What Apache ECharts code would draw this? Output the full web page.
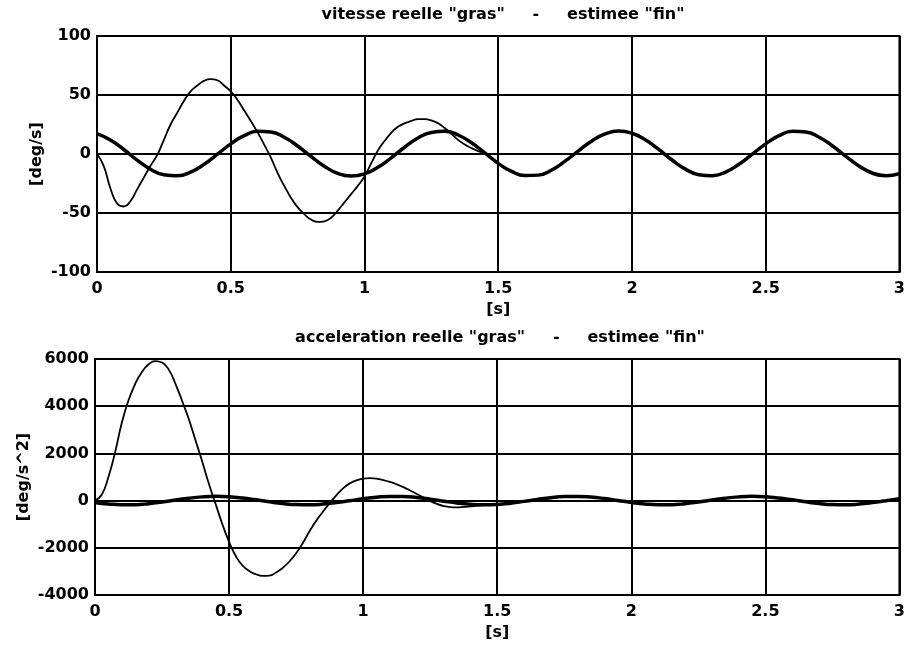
<!DOCTYPE html>
<html><head><meta charset="utf-8">
<script src="https://cdn.jsdelivr.net/npm/echarts@6/dist/echarts.min.js"></script>
<style>html,body{margin:0;padding:0;background:#fff}#c{width:908px;height:649px}</style>
</head><body><div id="c"></div>
<script>
// time samples [s] for the real ("gras") curves
const times = [0,0.05,0.1,0.15,0.2,0.25,0.3,0.35,0.4,0.45,0.5,0.55,0.6,0.65,0.7,0.75,0.8,0.85,0.9,0.95,
  1,1.05,1.1,1.15,1.2,1.25,1.3,1.35,1.4,1.45,1.5,1.55,1.6,1.65,1.7,1.75,1.8,1.85,1.9,1.95,
  2,2.05,2.1,2.15,2.2,2.25,2.3,2.35,2.4,2.45,2.5,2.55,2.6,2.65,2.7,2.75,2.8,2.85,2.9,2.95,3];
// time samples [s] for the estimated ("fin") curves
const timesEst = [0,0.025,0.05,0.075,0.1,0.125,0.15,0.175,0.2,0.225,0.25,0.275,0.3,0.325,0.35,0.375,0.4,0.425,0.45,0.475,
  0.5,0.525,0.55,0.575,0.6,0.625,0.65,0.675,0.7,0.725,0.75,0.775,0.8,0.825,0.85,0.875,0.9,0.925,0.95,0.975,
  1,1.025,1.05,1.075,1.1,1.125,1.15,1.175,1.2,1.225,1.25,1.275,1.3,1.325,1.35,1.375,1.4,1.425,1.45,1.475,1.5,
  1.55,1.6,1.65,1.7,1.75,1.8,1.85,1.9,1.95,
  2,2.05,2.1,2.15,2.2,2.25,2.3,2.35,2.4,2.45,2.5,2.55,2.6,2.65,2.7,2.75,2.8,2.85,2.9,2.95,3];

// vitesse reelle "gras" [deg/s]
const velReal = [17.2,11.8,3.8,-5.2,-12.9,-17.6,-18.5,-15.4,-8.8,-0.2,8.6,15.5,19.2,18.7,14.2,6.8,-2.1,-10.4,-16.4,-18.6,-16.8,
  -11.3,-3.2,5.7,13.5,18.3,19.3,16.1,9.5,0.9,-7.9,-14.8,-18.3,-17.9,-13.5,-6.1,2.7,11.1,17.1,19.5,17.6,
  12.0,3.9,-5.1,-12.8,-17.5,-18.4,-15.3,-8.7,-0.1,8.6,15.5,19.2,18.7,14.2,6.8,-2.0,-10.3,-16.3,-18.4,-16.6];
// vitesse estimee "fin" [deg/s]
const velEst = [0,-10,-29,-42,-44.5,-40,-30,-20,-10,-1,12,25,35,45,53,58,62,63.5,62.5,58,
  53,46,37,28,18.5,8,-3,-16,-27,-37,-45,-51,-55.5,-57.5,-57,-54,-48,-41,-34,-27,
  -19,-8,3,11,18,23,26,28,29.5,29.5,28.5,26,22,17,12,8,5,2.5,0.5,-3.5,-8,
  -14.8,-18.3,-17.9,-13.5,-6.1,2.7,11.1,17.1,19.5,
  17.6,12.0,3.9,-5.1,-12.8,-17.5,-18.4,-15.3,-8.7,-0.1,8.6,15.5,19.2,18.7,14.2,6.8,-2.0,-10.3,-16.3,-18.4,-16.6];

// acceleration reelle "gras" [deg/s^2]
const accReal = [-77,-143,-177,-173,-131,-60,23,102,158,180,163,110,33,-51,-124,-170,-179,-149,-86,-5,78,
  143,177,173,131,60,-23,-102,-158,-180,-163,-110,-33,51,124,170,179,149,86,5,-77,
  -143,-177,-173,-131,-60,23,102,158,180,163,110,33,-51,-124,-170,-179,-149,-86,-5,78];
// acceleration estimee "fin" [deg/s^2]
const accEst = [0,250,1000,2050,3300,4250,4950,5450,5780,5910,5850,5550,4950,4220,3450,2550,1650,700,-150,-1000,
  -1750,-2350,-2750,-2980,-3120,-3190,-3180,-3050,-2850,-2580,-2230,-1800,-1300,-850,-470,-110,220,520,730,860,
  930,950,930,870,790,690,570,430,280,130,-20,-140,-230,-275,-285,-270,-245,-215,-190,-175,-163,
  -110,-33,51,124,170,179,149,86,5,
  -77,-143,-177,-173,-131,-60,23,102,158,180,163,110,33,-51,-124,-170,-179,-149,-86,-5,78];

const xTicks = {min:0, max:3, step:0.5};
const velTicks = {min:-100, max:100, step:50};
const accTicks = {min:-4000, max:6000, step:2000};
const titles = ['vitesse reelle "gras"     -     estimee "fin"', 'acceleration reelle "gras"     -     estimee "fin"'];
const xName = '[s]';
const yNames = ['[deg/s]', '[deg/s^2]'];

const FF = 'DejaVu Sans';
const txt = {color:'#000', fontFamily:FF, fontSize:16, fontWeight:'bold'};
const pair = (ts, ys) => ts.map((t,i)=>[t, ys[i]]);

function xAx(g){
  return {gridIndex:g, type:'value', min:xTicks.min, max:xTicks.max, interval:xTicks.step,
    axisLine:{show:true, onZero:false, lineStyle:{color:'#000', width:2}},
    axisTick:{show:false},
    splitLine:{show:true, lineStyle:{color:'#000', width:2}},
    axisLabel:Object.assign({margin:9, formatter:v=>String(v)}, txt),
    name:xName, nameLocation:'middle', nameGap:30, nameTextStyle:txt, nameMoveOverlap:false};
}
function yAx(g, tk, gap){
  return {gridIndex:g, type:'value', min:tk.min, max:tk.max, interval:tk.step,
    axisLine:{show:true, onZero:false, lineStyle:{color:'#000', width:2}},
    axisTick:{show:false},
    splitLine:{show:true, lineStyle:{color:'#000', width:2}},
    axisLabel:Object.assign({margin:6, formatter:v=>String(v)}, txt),
    name:yNames[g], nameLocation:'middle', nameGap:gap, nameTextStyle:txt, nameMoveOverlap:false};
}
function ln(g, ts, ys, w){
  return {type:'line', xAxisIndex:g, yAxisIndex:g, data:pair(ts, ys), showSymbol:false, smooth:0.5,
    lineStyle:{color:'#000', width:w}, silent:true};
}

const chart = echarts.init(document.getElementById('c'), null, {renderer:'canvas'});
chart.setOption({
  animation:false,
  backgroundColor:'#fff',
  graphic:[
    {type:'text', x:503, y:15, style:{text:titles[0], textAlign:'center', textVerticalAlign:'middle', fill:'#000', font:'bold 16px "DejaVu Sans"'}},
    {type:'text', x:500, y:338, style:{text:titles[1], textAlign:'center', textVerticalAlign:'middle', fill:'#000', font:'bold 16px "DejaVu Sans"'}}
  ],
  grid:[
    {left:97, top:36, width:806, height:236, show:true, borderColor:'#000', borderWidth:2, backgroundColor:'transparent'},
    {left:95, top:359, width:807, height:236, show:true, borderColor:'#000', borderWidth:2, backgroundColor:'transparent'}
  ],
  xAxis:[xAx(0), xAx(1)],
  yAxis:[yAx(0, velTicks, 52), yAx(1, accTicks, 63)],
  series:[
    ln(0, times, velReal, 3.5), ln(0, timesEst, velEst, 1.8),
    ln(1, times, accReal, 3.5), ln(1, timesEst, accEst, 1.8)
  ]
});
</script></body></html>
